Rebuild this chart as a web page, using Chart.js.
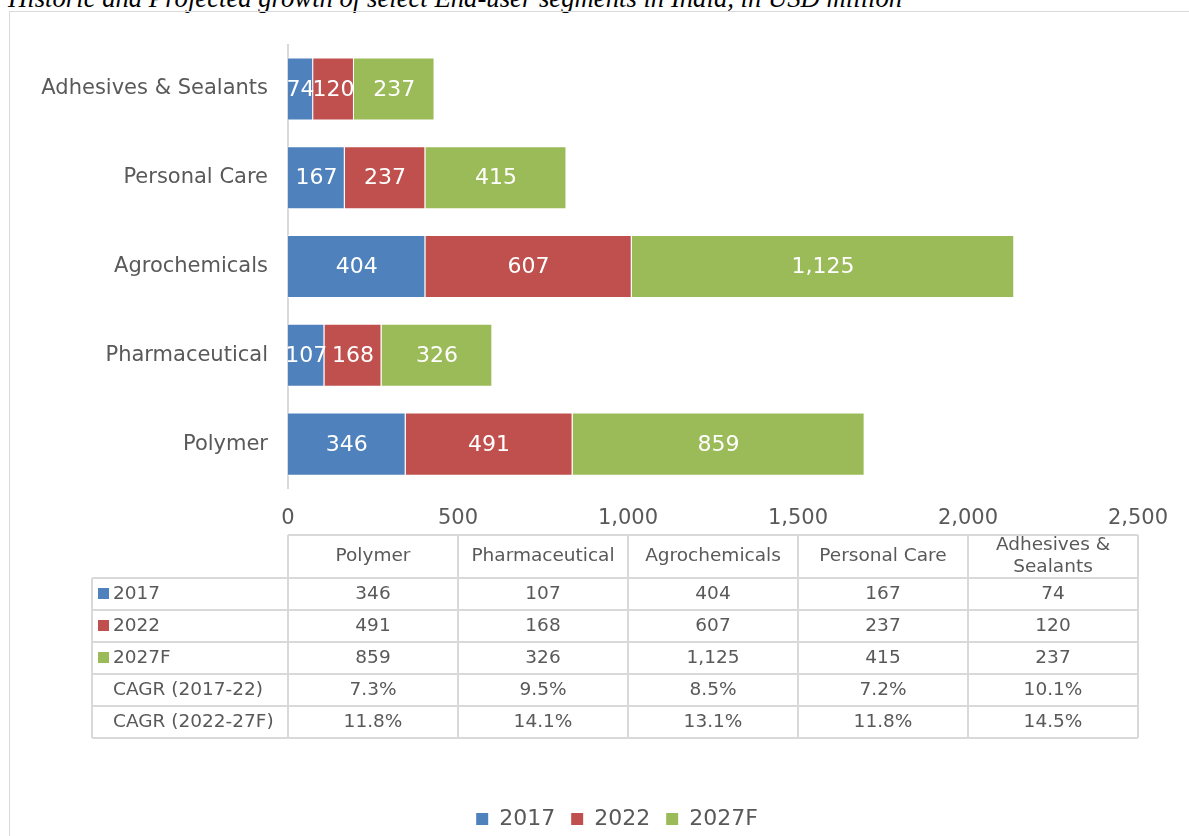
<html lang="en">
<head>
    <meta charset="UTF-8">
    <title>End-user segments in India</title>
    <script src="https://cdn.jsdelivr.net/npm/chart.js"></script>
    <style>
        body {
            margin: 0;
            overflow: hidden;
            background: #fff;
        }
        #title {
            position: absolute;
            left: 8px;
            top: -15px;
            font-family: "Liberation Serif", "Times New Roman", serif;
            font-style: italic;
            font-size: 26.7px;
            line-height: 26.7px;
            color: #000;
            white-space: nowrap;
        }
        #frame {
            position: absolute;
            left: 9px;
            top: 11px;
            width: 1300px;
            height: 900px;
            border-left: 1px solid #d9d9d9;
            border-top: 1px solid #d9d9d9;
        }
        #chart {
            position: absolute;
            left: 10px;
            top: 12px;
        }
    </style>
</head>
<body>
    <div id="title">Historic and Projected growth of select End-user segments in India, in USD million</div>
    <div id="frame"></div>
    <canvas id="chart" width="1204" height="828"></canvas>

    <script>
        // categories, bottom to top in the chart / left to right in the table
        const categories = ['Polymer', 'Pharmaceutical', 'Agrochemicals', 'Personal Care', 'Adhesives & Sealants'];
        const tableHeaders = ['Polymer', 'Pharmaceutical', 'Agrochemicals', 'Personal Care', ['Adhesives &', 'Sealants']];
        const seriesNames = ['2017', '2022', '2027F'];
        const values2017 = [346, 107, 404, 167, 74];
        const values2022 = [491, 168, 607, 237, 120];
        const values2027F = [859, 326, 1125, 415, 237];
        const cagrLabels = ['CAGR (2017-22)', 'CAGR (2022-27F)'];
        const cagr2017to22 = ['7.3%', '9.5%', '8.5%', '7.2%', '10.1%'];
        const cagr2022to27 = ['11.8%', '14.1%', '13.1%', '11.8%', '14.5%'];
        const xTicks = [0, 500, 1000, 1500, 2000, 2500];

        const colors = ['#4f81bd', '#c0504d', '#9bbb59'];
        const textColor = '#595959';
        const gridColor = '#d9d9d9';
        const fontFamily = "'DejaVu Sans', Verdana, sans-serif";

        Chart.defaults.font.family = fontFamily;
        Chart.defaults.color = textColor;

        const fmt = v => Number(v).toLocaleString('en-US');

        // white value labels centred in each bar segment
        const barLabels = {
            id: 'barLabels',
            afterDatasetsDraw(chart) {
                const ctx = chart.ctx;
                ctx.save();
                ctx.font = '22px ' + fontFamily;
                ctx.fillStyle = '#fff';
                ctx.textAlign = 'center';
                ctx.textBaseline = 'middle';
                chart.data.datasets.forEach((ds, i) => {
                    chart.getDatasetMeta(i).data.forEach((bar, j) => {
                        const c = bar.getCenterPoint();
                        ctx.fillText(fmt(ds.data[j]), c.x, c.y + 1);
                    });
                });
                ctx.restore();
            }
        };

        // data table under the x axis, one column per category
        const dataTable = {
            id: 'dataTable',
            afterDraw(chart) {
                const ctx = chart.ctx;
                const area = chart.chartArea;
                const colW = (area.right - area.left) / categories.length;
                const headTop = area.bottom + 46.5;
                const headBottom = area.bottom + 89.5;
                const rowH = 32;
                const tableLeft = 82;
                const rows = [
                    {label: seriesNames[0], key: colors[0], vals: values2017.map(fmt)},
                    {label: seriesNames[1], key: colors[1], vals: values2022.map(fmt)},
                    {label: seriesNames[2], key: colors[2], vals: values2027F.map(fmt)},
                    {label: cagrLabels[0], key: null, vals: cagr2017to22},
                    {label: cagrLabels[1], key: null, vals: cagr2022to27}
                ];
                const tableBottom = headBottom + rows.length * rowH;

                ctx.save();
                ctx.strokeStyle = gridColor;
                ctx.lineWidth = 2;
                ctx.beginPath();
                // header box
                ctx.moveTo(area.left, headTop);
                ctx.lineTo(area.right, headTop);
                for (let i = 0; i <= categories.length; i++) {
                    const x = area.left + i * colW;
                    ctx.moveTo(x, headTop);
                    ctx.lineTo(x, tableBottom);
                }
                // body rows
                for (let r = 0; r <= rows.length; r++) {
                    const y = headBottom + r * rowH;
                    ctx.moveTo(tableLeft, y);
                    ctx.lineTo(area.right, y);
                }
                ctx.moveTo(tableLeft, headBottom);
                ctx.lineTo(tableLeft, tableBottom);
                ctx.stroke();

                ctx.font = '18.5px ' + fontFamily;
                ctx.fillStyle = textColor;
                ctx.textBaseline = 'middle';
                ctx.textAlign = 'center';
                tableHeaders.forEach((h, i) => {
                    const cx = area.left + (i + 0.5) * colW;
                    const cy = (headTop + headBottom) / 2;
                    if (Array.isArray(h)) {
                        ctx.fillText(h[0], cx, cy - 11);
                        ctx.fillText(h[1], cx, cy + 11);
                    } else {
                        ctx.fillText(h, cx, cy);
                    }
                });
                rows.forEach((row, r) => {
                    const cy = headBottom + (r + 0.5) * rowH;
                    ctx.textAlign = 'center';
                    ctx.fillStyle = textColor;
                    row.vals.forEach((v, i) => {
                        ctx.fillText(v, area.left + (i + 0.5) * colW, cy);
                    });
                    if (row.key) {
                        ctx.fillStyle = row.key;
                        ctx.fillRect(tableLeft + 6, cy - 6, 11, 11);
                    }
                    ctx.fillStyle = textColor;
                    ctx.textAlign = 'left';
                    ctx.fillText(row.label, tableLeft + 21, cy);
                });
                ctx.restore();
            }
        };

        const ctx = document.getElementById('chart').getContext('2d');
        const chart = new Chart(ctx, {
            type: 'bar',
            data: {
                labels: categories,
                datasets: [values2017, values2022, values2027F].map((vals, i) => ({
                    label: seriesNames[i],
                    data: vals,
                    yAxisID: 'y',
                    backgroundColor: colors[i],
                    borderColor: '#ffffff',
                    borderWidth: 1,
                    barPercentage: 0.71,
                    categoryPercentage: 1
                }))
            },
            options: {
                indexAxis: 'y',
                responsive: false,
                animation: false,
                layout: {
                    padding: {left: 10, right: 0, top: 31, bottom: 0}
                },
                scales: {
                    x: {
                        stacked: true,
                        min: 0,
                        max: 2500,
                        afterBuildTicks(scale) {
                            scale.ticks = xTicks.map(v => ({value: v}));
                        },
                        afterFit(scale) {
                            scale.height = 303.5;
                        },
                        grid: {display: false, drawTicks: false},
                        border: {display: false},
                        ticks: {
                            padding: 17,
                            color: textColor,
                            font: {size: 21},
                            callback: v => fmt(v)
                        }
                    },
                    y: {
                        stacked: true,
                        reverse: true,
                        afterFit(scale) {
                            scale.width = 268;
                        },
                        grid: {display: false, drawTicks: false},
                        border: {display: true, color: gridColor, width: 2},
                        ticks: {
                            padding: 20,
                            color: textColor,
                            font: {size: 21}
                        }
                    },
                    // empty right-hand gutter, keeps the plot narrower than the frame
                    gutter: {
                        type: 'category',
                        axis: 'y',
                        position: 'right',
                        afterFit(scale) {
                            scale.width = 76;
                        },
                        grid: {display: false, drawTicks: false},
                        border: {display: false},
                        ticks: {display: false}
                    }
                },
                plugins: {
                    legend: {
                        position: 'bottom',
                        labels: {
                            boxWidth: 12,
                            boxHeight: 12,
                            padding: 16,
                            color: textColor,
                            font: {size: 22},
                            generateLabels(chart) {
                                return Chart.defaults.plugins.legend.labels.generateLabels(chart)
                                    .map(item => Object.assign(item, {lineWidth: 0}));
                            }
                        }
                    },
                    tooltip: {enabled: false}
                }
            },
            plugins: [barLabels, dataTable]
        });
    </script>
</body>
</html>
